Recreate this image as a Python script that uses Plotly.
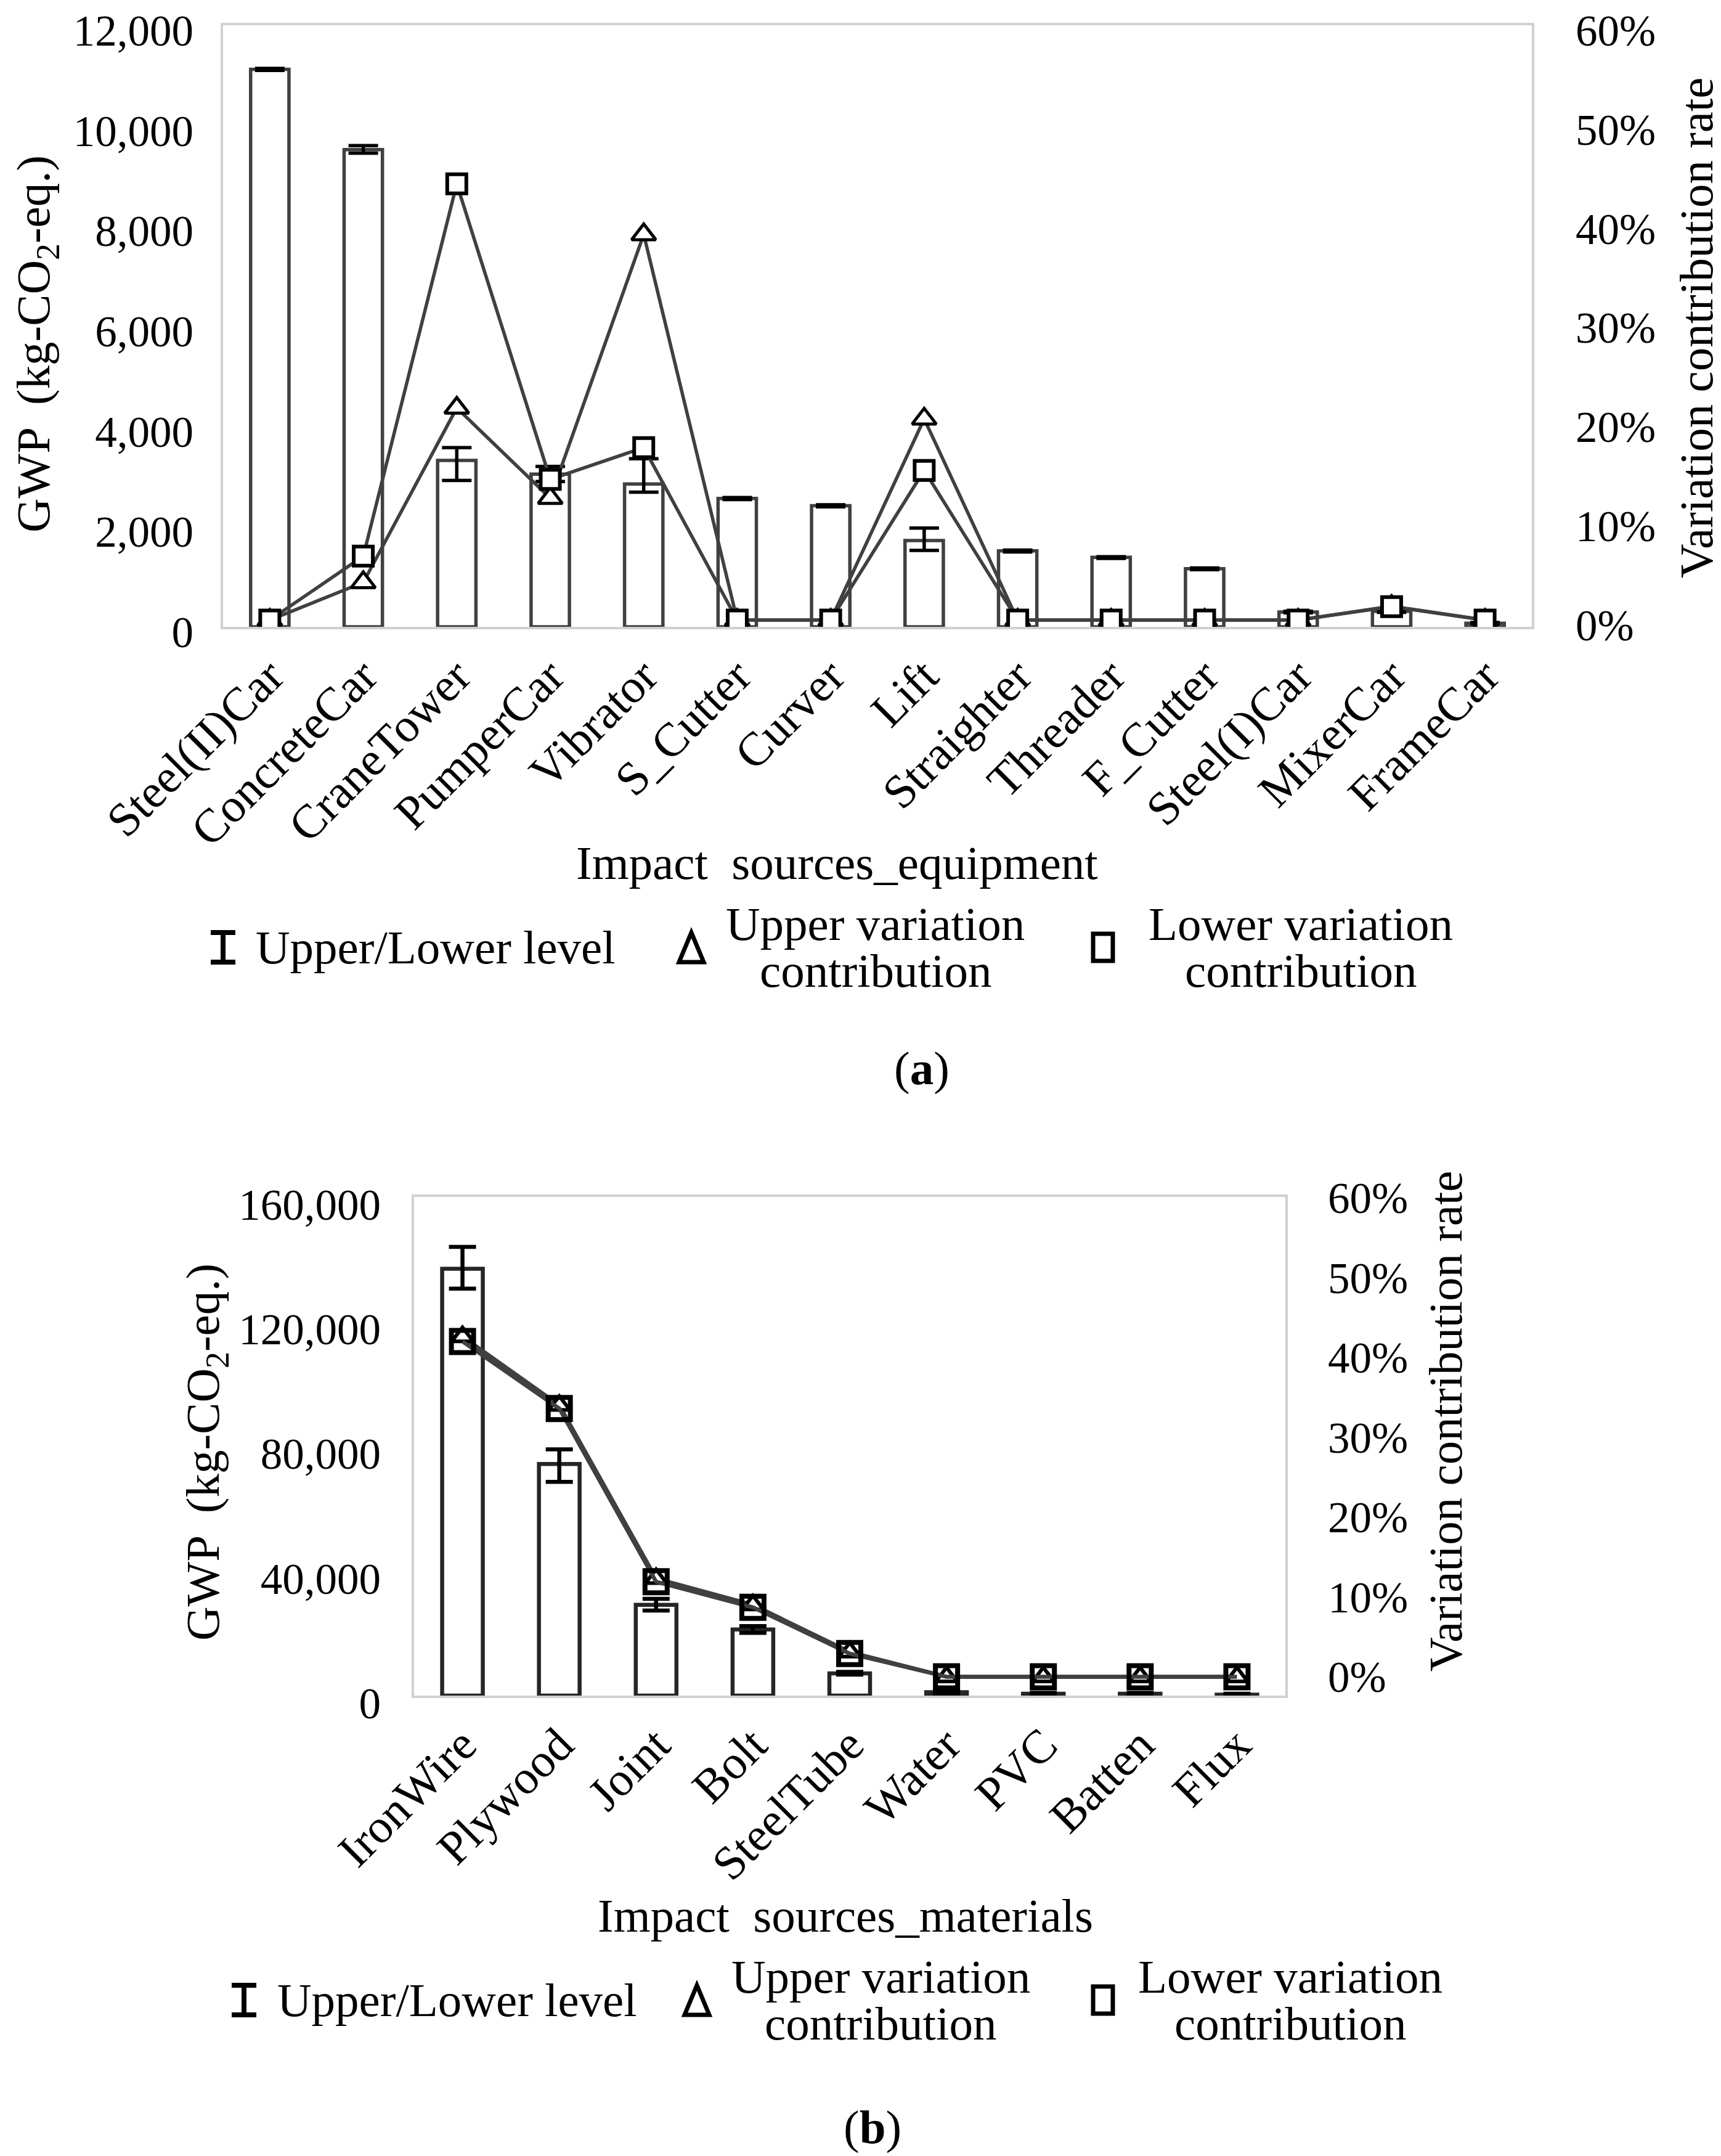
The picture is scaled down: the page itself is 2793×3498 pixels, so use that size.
import plotly.graph_objects as go

# ---------------- data: (a) equipment ----------------
equip = ["Steel(II)Car", "ConcreteCar", "CraneTower", "PumperCar", "Vibrator", "S_Cutter",
         "Curver", "Lift", "Straighter", "Threader", "F_Cutter", "Steel(I)Car", "MixerCar", "FrameCar"]
equip_gwp = [11120, 9520, 3320, 3045, 2850, 2560, 2415, 1720, 1515, 1385, 1160, 295, 310, 70]
equip_upper_level = [11140, 9600, 3575, 3200, 3355, 2580, 2435, 1970, 1530, 1400, 1175, 310, 330, 85]
equip_lower_level = [11100, 9450, 2920, 2900, 2685, 2540, 2395, 1525, 1495, 1365, 1140, 280, 290, 55]
equip_upper_contrib = [0, 3.8, 21.4, 12.3, 38.9, 0, 0, 20.3, 0, 0, 0, 0, 1.4, 0]      # %
equip_lower_contrib = [0, 6.45, 44.0, 14.2, 17.4, 0, 0, 15.1, 0, 0, 0, 0, 1.36, 0]    # %

# ---------------- data: (b) materials ----------------
mat = ["IronWire", "Plywood", "Joint", "Bolt", "SteelTube", "Water", "PVC", "Batten", "Flux"]
mat_gwp = [136950, 74300, 29100, 21200, 7130, 1100, 600, 600, 300]
mat_upper_level = [144000, 79000, 31050, 22300, 7600, 1500, 900, 900, 600]
mat_lower_level = [130600, 68600, 27300, 20100, 6700, 700, 300, 300, 100]
mat_upper_contrib = [42.6, 34.0, 12.3, 9.0, 3.1, 0, 0, 0, 0]   # %
mat_lower_contrib = [42.0, 33.6, 11.9, 8.7, 2.9, 0, 0, 0, 0]   # %

gwp_ticks_a = [0, 2000, 4000, 6000, 8000, 10000, 12000]
gwp_ticks_b = [0, 40000, 80000, 120000, 160000]
pct_ticks = [0, 10, 20, 30, 40, 50, 60]
pct_labels = ["0%", "10%", "20%", "30%", "40%", "50%", "60%"]

# ---------------- geometry helpers ----------------
W, H = 2793, 3498
def px(x):
    return x / W
def py(y):
    return 1 - y / H

FONT = "Liberation Serif"
LINE = "#404040"
BORDER = "#d0d0d0"

fig = go.Figure()

# ---------- (a) ----------
fig.add_trace(go.Bar(
    x=equip, y=equip_gwp, xaxis="x", yaxis="y", width=0.41,
    marker=dict(color="white", line=dict(color=LINE, width=5.5)),
    error_y=dict(type="data", symmetric=False,
                 array=[u - v for u, v in zip(equip_upper_level, equip_gwp)],
                 arrayminus=[v - l for v, l in zip(equip_gwp, equip_lower_level)],
                 color="black", thickness=5.5, width=24),
    showlegend=False))
fig.add_trace(go.Scatter(
    x=equip, y=equip_upper_contrib, xaxis="x", yaxis="y2", mode="lines+markers",
    line=dict(color=LINE, width=5.5),
    marker=dict(symbol="triangle-up", size=34, color="white", line=dict(color="black", width=5)),
    showlegend=False))
fig.add_trace(go.Scatter(
    x=equip, y=equip_lower_contrib, xaxis="x", yaxis="y2", mode="lines+markers",
    line=dict(color=LINE, width=5.5),
    marker=dict(symbol="square", size=31, color="white", line=dict(color="black", width=6)),
    showlegend=False))

# ---------- (b) ----------
fig.add_trace(go.Bar(
    x=mat, y=mat_gwp, xaxis="x2", yaxis="y3", width=0.42,
    marker=dict(color="white", line=dict(color="#262626", width=6.5)),
    error_y=dict(type="data", symmetric=False,
                 array=[u - v for u, v in zip(mat_upper_level, mat_gwp)],
                 arrayminus=[v - l for v, l in zip(mat_gwp, mat_lower_level)],
                 color="black", thickness=6.5, width=22),
    showlegend=False))
fig.add_trace(go.Scatter(
    x=mat, y=mat_upper_contrib, xaxis="x2", yaxis="y4", mode="lines+markers",
    line=dict(color=LINE, width=6.5),
    marker=dict(symbol="triangle-up", size=30, color="white", line=dict(color="black", width=6)),
    showlegend=False))
fig.add_trace(go.Scatter(
    x=mat, y=mat_lower_contrib, xaxis="x2", yaxis="y4", mode="lines+markers",
    line=dict(color=LINE, width=6.5),
    marker=dict(symbol="square", size=36, color="rgba(255,255,255,0)", line=dict(color="black", width=8)),
    showlegend=False))

tick_num = dict(family=FONT, size=71, color="black")
tick_cat = dict(family=FONT, size=77, color="black")

common_x = dict(type="category", showline=True, linecolor=BORDER, linewidth=3.5, mirror=True,
                ticks="", tickangle=-45, tickfont=tick_cat, showgrid=False,
                ticklabelstandoff=0, automargin=False, ticklabeloverflow="allow")
left_y = dict(tickformat=",", showline=True, linecolor=BORDER, linewidth=3.5, mirror=True,
              showgrid=False, zeroline=False, ticks="", tickfont=tick_num, automargin=False,
              ticklabeloverflow="allow")
right_y = dict(side="right", tickvals=pct_ticks, ticktext=pct_labels, showgrid=False,
               showline=False, zeroline=False, ticks="", tickfont=tick_num, automargin=False,
               ticklabeloverflow="allow")

fig.update_layout(
    width=W, height=H, margin=dict(l=0, r=0, t=0, b=0, autoexpand=False),
    paper_bgcolor="white", plot_bgcolor="white", showlegend=False,
    font=dict(family=FONT, color="black"),
    xaxis=dict(domain=[px(354), px(2478)], anchor="y", range=[-0.5, len(equip) - 0.5], **common_x),
    yaxis=dict(domain=[py(1009), py(33)], anchor="x", range=[0, 12000],
               tickvals=gwp_ticks_a, ticklabelstandoff=30, ticklabelshift=8, **left_y),
    yaxis2=dict(overlaying="y", anchor="x", range=[-0.68, 60], ticklabelstandoff=70,
                ticklabelshift=8, **right_y),
    xaxis2=dict(domain=[px(664), px(2078)], anchor="y3", range=[-0.5, len(mat) - 0.5], **common_x),
    yaxis3=dict(domain=[py(2743), py(1934)], anchor="x2", range=[0, 160000],
                tickvals=gwp_ticks_b, ticklabelstandoff=36, ticklabelshift=12, **left_y),
    yaxis4=dict(overlaying="y3", anchor="x2", range=[-2.36, 60.1], ticklabelstandoff=68, **right_y),
)

annotations = []
def ann(text, x, y, size=77, angle=0, xanchor="center"):
    annotations.append(dict(text=text, x=px(x), y=py(y), xref="paper", yref="paper",
                            showarrow=False, textangle=angle, xanchor=xanchor, yanchor="middle",
                            font=dict(family=FONT, size=size, color="black")))

# axis titles
ann("GWP  (kg-CO<sub>2</sub>-eq.)", 52, 550, angle=-90)
ann("Variation contribution rate", 2745, 524, angle=-90)
ann("Impact  sources_equipment", 1350, 1392)
ann("GWP  (kg-CO<sub>2</sub>-eq.)", 326, 2348, angle=-90)
ann("Variation contribution rate", 2338, 2298, angle=-90)
ann("Impact  sources_materials", 1364, 3100)

# panel labels
ann("(<b>a</b>)", 1488, 1725)
ann("(<b>b</b>)", 1408, 3443)

shapes = []
def legend_row(yc, x_i, x_txt1, x_tri, x_txt2, x_sq, x_txt3):
    # I-beam symbol
    h, cw = 24, 20
    shapes.append(dict(type="line", xref="paper", yref="paper", x0=px(x_i), x1=px(x_i),
                       y0=py(yc - h), y1=py(yc + h), line=dict(color="black", width=8)))
    for dy in (-h, h):
        shapes.append(dict(type="line", xref="paper", yref="paper", x0=px(x_i - cw), x1=px(x_i + cw),
                           y0=py(yc + dy), y1=py(yc + dy), line=dict(color="black", width=8)))
    # triangle symbol
    tw, th = 20, 24
    path = "M {} {} L {} {} L {} {} Z".format(px(x_tri), py(yc - th), px(x_tri + tw), py(yc + th),
                                              px(x_tri - tw), py(yc + th))
    shapes.append(dict(type="path", xref="paper", yref="paper", path=path,
                       line=dict(color="black", width=7), fillcolor="rgba(0,0,0,0)"))
    # square symbol
    sw, sh = 16, 22
    shapes.append(dict(type="rect", xref="paper", yref="paper", x0=px(x_sq - sw), x1=px(x_sq + sw),
                       y0=py(yc + sh), y1=py(yc - sh), line=dict(color="black", width=7),
                       fillcolor="rgba(0,0,0,0)"))
    ann("Upper/Lower level", x_txt1, yc, xanchor="left")
    ann("Upper variation", x_txt2, yc - 38)
    ann("contribution", x_txt2, yc + 38)
    ann("Lower variation", x_txt3, yc - 38)
    ann("contribution", x_txt3, yc + 38)

legend_row(1529, 354, 405, 1114, 1413, 1782, 2103)
legend_row(3237, 388, 440, 1123, 1421, 1782, 2086)

fig.update_layout(annotations=annotations, shapes=shapes)

fig.write_html("out.html")
